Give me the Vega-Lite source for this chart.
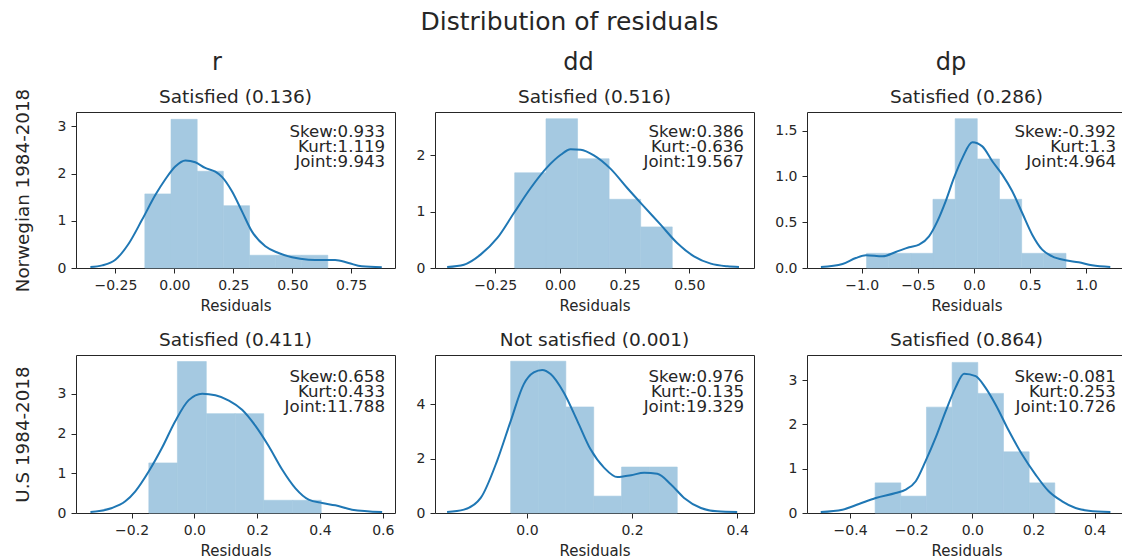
{
  "$schema": "https://vega.github.io/schema/vega-lite/v6.json",
  "padding": {"left": 12, "top": 10, "right": 0, "bottom": 0},
  "background": "white",
  "title": {"text": "Distribution of residuals", "fontSize": 25, "anchor": "middle", "offset": 16},
  "datasets": {
    "bins": [
      {"panel": "a", "x0": -0.125, "x1": -0.014, "density": 1.57},
      {"panel": "a", "x0": -0.014, "x1": 0.097, "density": 3.15},
      {"panel": "a", "x0": 0.097, "x1": 0.208, "density": 2.05},
      {"panel": "a", "x0": 0.208, "x1": 0.319, "density": 1.32},
      {"panel": "a", "x0": 0.319, "x1": 0.430, "density": 0.27},
      {"panel": "a", "x0": 0.430, "x1": 0.540, "density": 0.27},
      {"panel": "a", "x0": 0.540, "x1": 0.651, "density": 0.27},
      {"panel": "b", "x0": -0.175, "x1": -0.054, "density": 1.69},
      {"panel": "b", "x0": -0.054, "x1": 0.068, "density": 2.65},
      {"panel": "b", "x0": 0.068, "x1": 0.190, "density": 1.94},
      {"panel": "b", "x0": 0.190, "x1": 0.312, "density": 1.22},
      {"panel": "b", "x0": 0.312, "x1": 0.434, "density": 0.73},
      {"panel": "c", "x0": -0.957, "x1": -0.760, "density": 0.16},
      {"panel": "c", "x0": -0.760, "x1": -0.562, "density": 0.16},
      {"panel": "c", "x0": -0.562, "x1": -0.365, "density": 0.16},
      {"panel": "c", "x0": -0.365, "x1": -0.167, "density": 0.75},
      {"panel": "c", "x0": -0.167, "x1": 0.030, "density": 1.63},
      {"panel": "c", "x0": 0.030, "x1": 0.228, "density": 1.19},
      {"panel": "c", "x0": 0.228, "x1": 0.426, "density": 0.75},
      {"panel": "c", "x0": 0.426, "x1": 0.623, "density": 0.16},
      {"panel": "c", "x0": 0.623, "x1": 0.821, "density": 0.16},
      {"panel": "d", "x0": -0.145, "x1": -0.054, "density": 1.26},
      {"panel": "d", "x0": -0.054, "x1": 0.038, "density": 3.81},
      {"panel": "d", "x0": 0.038, "x1": 0.130, "density": 2.5},
      {"panel": "d", "x0": 0.130, "x1": 0.221, "density": 2.5},
      {"panel": "d", "x0": 0.221, "x1": 0.313, "density": 0.32},
      {"panel": "d", "x0": 0.313, "x1": 0.404, "density": 0.32},
      {"panel": "e", "x0": -0.031, "x1": 0.022, "density": 5.58},
      {"panel": "e", "x0": 0.022, "x1": 0.074, "density": 5.58},
      {"panel": "e", "x0": 0.074, "x1": 0.127, "density": 3.90},
      {"panel": "e", "x0": 0.127, "x1": 0.180, "density": 0.62},
      {"panel": "e", "x0": 0.180, "x1": 0.233, "density": 1.69},
      {"panel": "e", "x0": 0.233, "x1": 0.286, "density": 1.69},
      {"panel": "f", "x0": -0.318, "x1": -0.234, "density": 0.68},
      {"panel": "f", "x0": -0.234, "x1": -0.150, "density": 0.38},
      {"panel": "f", "x0": -0.150, "x1": -0.066, "density": 2.39},
      {"panel": "f", "x0": -0.066, "x1": 0.018, "density": 3.40},
      {"panel": "f", "x0": 0.018, "x1": 0.102, "density": 2.70},
      {"panel": "f", "x0": 0.102, "x1": 0.186, "density": 1.38},
      {"panel": "f", "x0": 0.186, "x1": 0.270, "density": 0.68}
    ],
    "kde": [
      {"panel": "a", "x": -0.356, "density": 0.02},
      {"panel": "a", "x": -0.306, "density": 0.056},
      {"panel": "a", "x": -0.25, "density": 0.176},
      {"panel": "a", "x": -0.193, "density": 0.52},
      {"panel": "a", "x": -0.137, "density": 1.02},
      {"panel": "a", "x": -0.08, "density": 1.55},
      {"panel": "a", "x": -0.038, "density": 1.88},
      {"panel": "a", "x": 0.004, "density": 2.15},
      {"panel": "a", "x": 0.047, "density": 2.28},
      {"panel": "a", "x": 0.089, "density": 2.24},
      {"panel": "a", "x": 0.131, "density": 2.12},
      {"panel": "a", "x": 0.174, "density": 2.04},
      {"panel": "a", "x": 0.202, "density": 1.93},
      {"panel": "a", "x": 0.245, "density": 1.62},
      {"panel": "a", "x": 0.287, "density": 1.2},
      {"panel": "a", "x": 0.329, "density": 0.776},
      {"panel": "a", "x": 0.386, "density": 0.459},
      {"panel": "a", "x": 0.442, "density": 0.318},
      {"panel": "a", "x": 0.499, "density": 0.226},
      {"panel": "a", "x": 0.569, "density": 0.176},
      {"panel": "a", "x": 0.626, "density": 0.17},
      {"panel": "a", "x": 0.682, "density": 0.17},
      {"panel": "a", "x": 0.739, "density": 0.106},
      {"panel": "a", "x": 0.795, "density": 0.035},
      {"panel": "a", "x": 0.88, "density": 0.014},
      {"panel": "b", "x": -0.436, "density": 0.018},
      {"panel": "b", "x": -0.371, "density": 0.059},
      {"panel": "b", "x": -0.307, "density": 0.237},
      {"panel": "b", "x": -0.242, "density": 0.533},
      {"panel": "b", "x": -0.178, "density": 0.976},
      {"panel": "b", "x": -0.113, "density": 1.42},
      {"panel": "b", "x": -0.049, "density": 1.79},
      {"panel": "b", "x": 0.003, "density": 2.01},
      {"panel": "b", "x": 0.041, "density": 2.11},
      {"panel": "b", "x": 0.08, "density": 2.1},
      {"panel": "b", "x": 0.131, "density": 2.0},
      {"panel": "b", "x": 0.196, "density": 1.76},
      {"panel": "b", "x": 0.26, "density": 1.42},
      {"panel": "b", "x": 0.325, "density": 1.09},
      {"panel": "b", "x": 0.389, "density": 0.769},
      {"panel": "b", "x": 0.453, "density": 0.444},
      {"panel": "b", "x": 0.518, "density": 0.207},
      {"panel": "b", "x": 0.583, "density": 0.077},
      {"panel": "b", "x": 0.647, "density": 0.03},
      {"panel": "b", "x": 0.692, "density": 0.018},
      {"panel": "c", "x": -1.364, "density": 0.011},
      {"panel": "c", "x": -1.171, "density": 0.044},
      {"panel": "c", "x": -1.053, "density": 0.109},
      {"panel": "c", "x": -0.963, "density": 0.138},
      {"panel": "c", "x": -0.815, "density": 0.127},
      {"panel": "c", "x": -0.697, "density": 0.175},
      {"panel": "c", "x": -0.578, "density": 0.226},
      {"panel": "c", "x": -0.489, "density": 0.255},
      {"panel": "c", "x": -0.4, "density": 0.346},
      {"panel": "c", "x": -0.326, "density": 0.509},
      {"panel": "c", "x": -0.252, "density": 0.728},
      {"panel": "c", "x": -0.178, "density": 0.983},
      {"panel": "c", "x": -0.103, "density": 1.2},
      {"panel": "c", "x": -0.014, "density": 1.372},
      {"panel": "c", "x": 0.075, "density": 1.328},
      {"panel": "c", "x": 0.164, "density": 1.165},
      {"panel": "c", "x": 0.253, "density": 1.019},
      {"panel": "c", "x": 0.342, "density": 0.837},
      {"panel": "c", "x": 0.431, "density": 0.6},
      {"panel": "c", "x": 0.52, "density": 0.364},
      {"panel": "c", "x": 0.609, "density": 0.2},
      {"panel": "c", "x": 0.698, "density": 0.127},
      {"panel": "c", "x": 0.816, "density": 0.084},
      {"panel": "c", "x": 0.934, "density": 0.062},
      {"panel": "c", "x": 1.053, "density": 0.029},
      {"panel": "c", "x": 1.216, "density": 0.011},
      {"panel": "d", "x": -0.331, "density": 0.025},
      {"panel": "d", "x": -0.262, "density": 0.126},
      {"panel": "d", "x": -0.22, "density": 0.294},
      {"panel": "d", "x": -0.188, "density": 0.546},
      {"panel": "d", "x": -0.145, "density": 1.05},
      {"panel": "d", "x": -0.103, "density": 1.64},
      {"panel": "d", "x": -0.061, "density": 2.31},
      {"panel": "d", "x": -0.018, "density": 2.84},
      {"panel": "d", "x": 0.025, "density": 3.0},
      {"panel": "d", "x": 0.067, "density": 2.96},
      {"panel": "d", "x": 0.11, "density": 2.83},
      {"panel": "d", "x": 0.152, "density": 2.6},
      {"panel": "d", "x": 0.194, "density": 2.2},
      {"panel": "d", "x": 0.237, "density": 1.68},
      {"panel": "d", "x": 0.279, "density": 1.1},
      {"panel": "d", "x": 0.322, "density": 0.62},
      {"panel": "d", "x": 0.364, "density": 0.336},
      {"panel": "d", "x": 0.407, "density": 0.252},
      {"panel": "d", "x": 0.449, "density": 0.193},
      {"panel": "d", "x": 0.502, "density": 0.084},
      {"panel": "d", "x": 0.598, "density": 0.025},
      {"panel": "e", "x": -0.152, "density": 0.037},
      {"panel": "e", "x": -0.12, "density": 0.123},
      {"panel": "e", "x": -0.088, "density": 0.554},
      {"panel": "e", "x": -0.057, "density": 1.91},
      {"panel": "e", "x": -0.031, "density": 3.38},
      {"panel": "e", "x": -0.006, "density": 4.74},
      {"panel": "e", "x": 0.013, "density": 5.17},
      {"panel": "e", "x": 0.029, "density": 5.26},
      {"panel": "e", "x": 0.045, "density": 5.11},
      {"panel": "e", "x": 0.07, "density": 4.43},
      {"panel": "e", "x": 0.096, "density": 3.38},
      {"panel": "e", "x": 0.121, "density": 2.34},
      {"panel": "e", "x": 0.147, "density": 1.66},
      {"panel": "e", "x": 0.172, "density": 1.32},
      {"panel": "e", "x": 0.198, "density": 1.39},
      {"panel": "e", "x": 0.223, "density": 1.48},
      {"panel": "e", "x": 0.248, "density": 1.44},
      {"panel": "e", "x": 0.274, "density": 1.05},
      {"panel": "e", "x": 0.299, "density": 0.554},
      {"panel": "e", "x": 0.331, "density": 0.185},
      {"panel": "e", "x": 0.362, "density": 0.062},
      {"panel": "e", "x": 0.4, "density": 0.037},
      {"panel": "f", "x": -0.496, "density": 0.023},
      {"panel": "f", "x": -0.425, "density": 0.075},
      {"panel": "f", "x": -0.371, "density": 0.204},
      {"panel": "f", "x": -0.316, "density": 0.339},
      {"panel": "f", "x": -0.251, "density": 0.452},
      {"panel": "f", "x": -0.218, "density": 0.528},
      {"panel": "f", "x": -0.185, "density": 0.716},
      {"panel": "f", "x": -0.153, "density": 1.17},
      {"panel": "f", "x": -0.12, "density": 1.7},
      {"panel": "f", "x": -0.087, "density": 2.3},
      {"panel": "f", "x": -0.055, "density": 2.83},
      {"panel": "f", "x": -0.027, "density": 3.145},
      {"panel": "f", "x": 0.011, "density": 3.09},
      {"panel": "f", "x": 0.043, "density": 2.83},
      {"panel": "f", "x": 0.076, "density": 2.45},
      {"panel": "f", "x": 0.12, "density": 1.85},
      {"panel": "f", "x": 0.163, "density": 1.32},
      {"panel": "f", "x": 0.207, "density": 0.867},
      {"panel": "f", "x": 0.25, "density": 0.49},
      {"panel": "f", "x": 0.294, "density": 0.264},
      {"panel": "f", "x": 0.338, "density": 0.113},
      {"panel": "f", "x": 0.381, "density": 0.053},
      {"panel": "f", "x": 0.452, "density": 0.023}
    ],
    "notes": [
      {"panel": "a", "label": "Skew:0.933\nKurt:1.119\nJoint:9.943"},
      {"panel": "b", "label": "Skew:0.386\nKurt:-0.636\nJoint:19.567"},
      {"panel": "c", "label": "Skew:-0.392\nKurt:1.3\nJoint:4.964"},
      {"panel": "d", "label": "Skew:0.658\nKurt:0.433\nJoint:11.788"},
      {"panel": "e", "label": "Skew:0.976\nKurt:-0.135\nJoint:19.329"},
      {"panel": "f", "label": "Skew:-0.081\nKurt:0.253\nJoint:10.726"}
    ]
  },
  "concat": [
    {
      "title": {"text": "r", "fontSize": 24, "anchor": "middle", "dx": 13, "offset": 12},
      "vconcat": [
        {
          "width": 319, "height": 156,
          "title": {"text": "Satisfied (0.136)", "frame": "group", "offset": -18},
          "layer": [
            {"data": {"name": "bins"}, "transform": [{"filter": "datum.panel == 'a'"}],
             "mark": {"type": "rect", "color": "#a5c9e1", "stroke": "#a5c9e1", "strokeWidth": 0.6},
             "encoding": {
               "x": {"field": "x0", "type": "quantitative", "title": "Residuals", "scale": {"domain": [-0.417, 0.936], "nice": false, "zero": false}, "axis": {"values": [-0.25, 0, 0.25, 0.5, 0.75], "format": ".2f"}},
               "x2": {"field": "x1"},
               "y": {"field": "density", "type": "quantitative", "title": "Norwegian 1984-2018", "scale": {"domain": [0, 3.305], "nice": false}, "axis": {"values": [0, 1, 2, 3], "format": "d", "minExtent": 30, "titlePadding": 14, "titleFontSize": 18.3}},
               "y2": {"datum": 0}
             }},
            {"data": {"name": "kde"}, "transform": [{"filter": "datum.panel == 'a'"}],
             "mark": {"type": "line", "color": "#1f77b4", "strokeWidth": 2, "interpolate": "monotone"},
             "encoding": {"x": {"field": "x", "type": "quantitative", "title": "Residuals"}, "y": {"field": "density", "type": "quantitative", "title": "Norwegian 1984-2018"}}},
            {"data": {"name": "notes"}, "transform": [{"filter": "datum.panel == 'a'"}],
             "mark": {"type": "text", "align": "right", "baseline": "top", "lineBreak": "\n", "lineHeight": 15, "fontSize": 16.6, "color": "#262626"},
             "encoding": {"x": {"datum": 0.894}, "y": {"datum": 3.05}, "text": {"field": "label"}}}
          ]
        }
      ]
    },
    {
      "title": {"text": "dd", "fontSize": 24, "anchor": "middle", "dx": -2, "offset": 12},
      "vconcat": [
        {
          "width": 319, "height": 156,
          "title": {"text": "Satisfied (0.516)", "frame": "group"},
          "layer": [
            {"data": {"name": "bins"}, "transform": [{"filter": "datum.panel == 'b'"}],
             "mark": {"type": "rect", "color": "#a5c9e1", "stroke": "#a5c9e1", "strokeWidth": 0.6},
             "encoding": {
               "x": {"field": "x0", "type": "quantitative", "title": "Residuals", "scale": {"domain": [-0.483, 0.75], "nice": false, "zero": false}, "axis": {"values": [-0.25, 0, 0.25, 0.5], "format": ".2f"}},
               "x2": {"field": "x1"},
               "y": {"field": "density", "type": "quantitative", "title": null, "scale": {"domain": [0, 2.77], "nice": false}, "axis": {"values": [0, 1, 2], "format": "d", "minExtent": 28}},
               "y2": {"datum": 0}
             }},
            {"data": {"name": "kde"}, "transform": [{"filter": "datum.panel == 'b'"}],
             "mark": {"type": "line", "color": "#1f77b4", "strokeWidth": 2, "interpolate": "monotone"},
             "encoding": {"x": {"field": "x", "type": "quantitative", "title": "Residuals"}, "y": {"field": "density", "type": "quantitative", "title": null}}},
            {"data": {"name": "notes"}, "transform": [{"filter": "datum.panel == 'b'"}],
             "mark": {"type": "text", "align": "right", "baseline": "top", "lineBreak": "\n", "lineHeight": 15, "fontSize": 16.6, "color": "#262626"},
             "encoding": {"x": {"datum": 0.711}, "y": {"datum": 2.56}, "text": {"field": "label"}}}
          ]
        }
      ]
    },
    {
      "title": {"text": "dp", "fontSize": 24, "anchor": "middle", "dx": 5, "offset": 12},
      "vconcat": [
        {
          "width": 319, "height": 156,
          "title": {"text": "Satisfied (0.286)", "frame": "group"},
          "layer": [
            {"data": {"name": "bins"}, "transform": [{"filter": "datum.panel == 'c'"}],
             "mark": {"type": "rect", "color": "#a5c9e1", "stroke": "#a5c9e1", "strokeWidth": 0.6},
             "encoding": {
               "x": {"field": "x0", "type": "quantitative", "title": "Residuals", "scale": {"domain": [-1.488, 1.356], "nice": false, "zero": false}, "axis": {"values": [-1, -0.5, 0, 0.5, 1], "format": ".1f"}},
               "x2": {"field": "x1"},
               "y": {"field": "density", "type": "quantitative", "title": null, "scale": {"domain": [0, 1.703], "nice": false}, "axis": {"values": [0, 0.5, 1, 1.5], "format": ".1f", "minExtent": 41}},
               "y2": {"datum": 0}
             }},
            {"data": {"name": "kde"}, "transform": [{"filter": "datum.panel == 'c'"}],
             "mark": {"type": "line", "color": "#1f77b4", "strokeWidth": 2, "interpolate": "monotone"},
             "encoding": {"x": {"field": "x", "type": "quantitative", "title": "Residuals"}, "y": {"field": "density", "type": "quantitative", "title": null}}},
            {"data": {"name": "notes"}, "transform": [{"filter": "datum.panel == 'c'"}],
             "mark": {"type": "text", "align": "right", "baseline": "top", "lineBreak": "\n", "lineHeight": 15, "fontSize": 16.6, "color": "#262626"},
             "encoding": {"x": {"datum": 1.267}, "y": {"datum": 1.575}, "text": {"field": "label"}}}
          ]
        }
      ]
    },
    {
      "width": 319, "height": 158,
      "title": {"text": "Satisfied (0.411)", "frame": "group"},
      "layer": [
        {"data": {"name": "bins"}, "transform": [{"filter": "datum.panel == 'd'"}],
         "mark": {"type": "rect", "color": "#a5c9e1", "stroke": "#a5c9e1", "strokeWidth": 0.6},
         "encoding": {
           "x": {"field": "x0", "type": "quantitative", "title": "Residuals", "scale": {"domain": [-0.377, 0.639], "nice": false, "zero": false}, "axis": {"values": [-0.2, 0, 0.2, 0.4, 0.6], "format": ".1f"}},
           "x2": {"field": "x1"},
           "y": {"field": "density", "type": "quantitative", "title": "U.S 1984-2018", "scale": {"domain": [0, 3.975], "nice": false}, "axis": {"values": [0, 1, 2, 3], "format": "d", "minExtent": 30, "titlePadding": 14, "titleFontSize": 18.3}},
           "y2": {"datum": 0}
         }},
        {"data": {"name": "kde"}, "transform": [{"filter": "datum.panel == 'd'"}],
         "mark": {"type": "line", "color": "#1f77b4", "strokeWidth": 2, "interpolate": "monotone"},
         "encoding": {"x": {"field": "x", "type": "quantitative", "title": "Residuals"}, "y": {"field": "density", "type": "quantitative", "title": "U.S 1984-2018"}}},
        {"data": {"name": "notes"}, "transform": [{"filter": "datum.panel == 'd'"}],
         "mark": {"type": "text", "align": "right", "baseline": "top", "lineBreak": "\n", "lineHeight": 15, "fontSize": 16.6, "color": "#262626"},
         "encoding": {"x": {"datum": 0.607}, "y": {"datum": 3.62}, "text": {"field": "label"}}}
      ]
    },
    {
      "width": 319, "height": 158,
      "title": {"text": "Not satisfied (0.001)", "frame": "group"},
      "layer": [
        {"data": {"name": "bins"}, "transform": [{"filter": "datum.panel == 'e'"}],
         "mark": {"type": "rect", "color": "#a5c9e1", "stroke": "#a5c9e1", "strokeWidth": 0.6},
         "encoding": {
           "x": {"field": "x0", "type": "quantitative", "title": "Residuals", "scale": {"domain": [-0.175, 0.432], "nice": false, "zero": false}, "axis": {"values": [0, 0.2, 0.4], "format": ".1f"}},
           "x2": {"field": "x1"},
           "y": {"field": "density", "type": "quantitative", "title": null, "scale": {"domain": [0, 5.81], "nice": false}, "axis": {"values": [0, 2, 4], "format": "d", "minExtent": 28}},
           "y2": {"datum": 0}
         }},
        {"data": {"name": "kde"}, "transform": [{"filter": "datum.panel == 'e'"}],
         "mark": {"type": "line", "color": "#1f77b4", "strokeWidth": 2, "interpolate": "monotone"},
         "encoding": {"x": {"field": "x", "type": "quantitative", "title": "Residuals"}, "y": {"field": "density", "type": "quantitative", "title": null}}},
        {"data": {"name": "notes"}, "transform": [{"filter": "datum.panel == 'e'"}],
         "mark": {"type": "text", "align": "right", "baseline": "top", "lineBreak": "\n", "lineHeight": 15, "fontSize": 16.6, "color": "#262626"},
         "encoding": {"x": {"datum": 0.413}, "y": {"datum": 5.293}, "text": {"field": "label"}}}
      ]
    },
    {
      "width": 319, "height": 158,
      "title": {"text": "Satisfied (0.864)", "frame": "group"},
      "layer": [
        {"data": {"name": "bins"}, "transform": [{"filter": "datum.panel == 'f'"}],
         "mark": {"type": "rect", "color": "#a5c9e1", "stroke": "#a5c9e1", "strokeWidth": 0.6},
         "encoding": {
           "x": {"field": "x0", "type": "quantitative", "title": "Residuals", "scale": {"domain": [-0.541, 0.503], "nice": false, "zero": false}, "axis": {"values": [-0.4, -0.2, 0, 0.2, 0.4], "format": ".1f"}},
           "x2": {"field": "x1"},
           "y": {"field": "density", "type": "quantitative", "title": null, "scale": {"domain": [0, 3.567], "nice": false}, "axis": {"values": [0, 1, 2, 3], "format": "d", "minExtent": 41}},
           "y2": {"datum": 0}
         }},
        {"data": {"name": "kde"}, "transform": [{"filter": "datum.panel == 'f'"}],
         "mark": {"type": "line", "color": "#1f77b4", "strokeWidth": 2, "interpolate": "monotone"},
         "encoding": {"x": {"field": "x", "type": "quantitative", "title": "Residuals"}, "y": {"field": "density", "type": "quantitative", "title": null}}},
        {"data": {"name": "notes"}, "transform": [{"filter": "datum.panel == 'f'"}],
         "mark": {"type": "text", "align": "right", "baseline": "top", "lineBreak": "\n", "lineHeight": 15, "fontSize": 16.6, "color": "#262626"},
         "encoding": {"x": {"datum": 0.470}, "y": {"datum": 3.25}, "text": {"field": "label"}}}
      ]
    }
  ],
  "columns": 3,
  "align": "each",
  "spacing": {"row": 16, "column": 10},
  "config": {
    "font": "DejaVu Sans",
    "view": {"stroke": "#262626", "strokeWidth": 1},
    "axis": {"grid": false, "domain": false, "tickColor": "#262626", "tickSize": 5, "labelColor": "#262626", "labelFontSize": 14, "labelFont": "DejaVu Sans", "labelPadding": 5, "titleFont": "DejaVu Sans", "titleFontWeight": "normal", "titleColor": "#262626", "titleFontSize": 15, "titlePadding": 6},
    "title": {"font": "DejaVu Sans", "fontWeight": "normal", "color": "#262626", "fontSize": 18.5, "offset": 6}
  }
}
